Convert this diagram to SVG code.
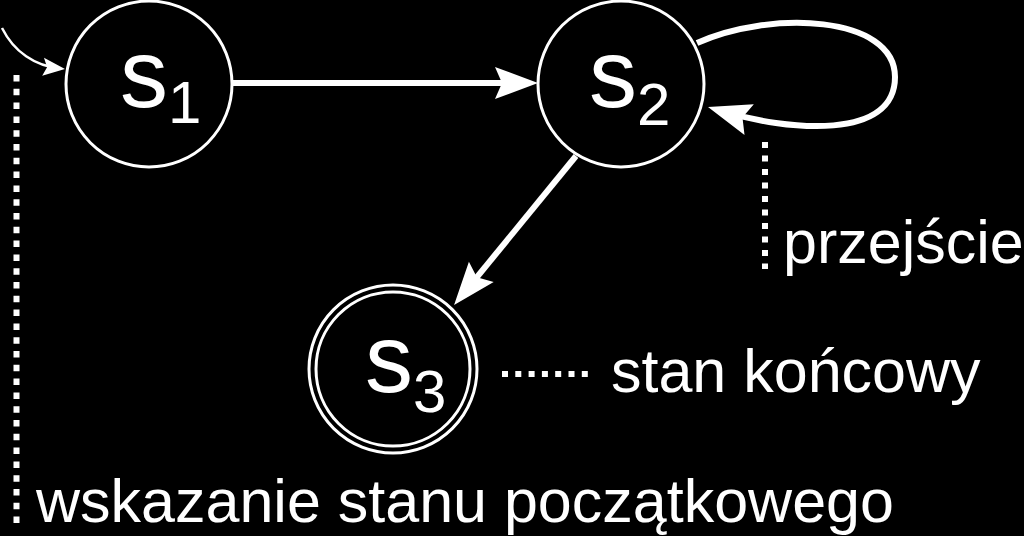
<svg xmlns="http://www.w3.org/2000/svg" width="1024" height="536" viewBox="0 0 1024 536">
<style>
.st{fill:none;stroke:#fff;stroke-width:3}
.lbl{fill:#fff;font-family:"Liberation Sans",Arial,sans-serif}
.big{font-size:96px}
.sub{font-size:60px}
.note{fill:#fff;font-family:"Liberation Sans",Arial,sans-serif;font-size:61px}
.edge{fill:none;stroke:#fff;stroke-width:6}
.dot{fill:none;stroke:#fff;stroke-width:6;stroke-dasharray:6 7.5}
</style>
<defs>
<marker id="ah" markerUnits="userSpaceOnUse" viewBox="-50 -20 60 40" markerWidth="60" markerHeight="40" refX="-10" refY="0" orient="auto" overflow="visible">
<path d="M0,0 L-43,-16 L-36,0 L-43,16 Z" fill="#fff"/>
</marker>
<marker id="ahs" markerUnits="userSpaceOnUse" viewBox="-30 -10 40 20" markerWidth="40" markerHeight="20" refX="-5" refY="0" orient="auto" overflow="visible">
<path d="M0,0 L-22,-9 L-18,0 L-22,9 Z" fill="#fff"/>
</marker>
</defs>
<rect width="1024" height="536" fill="#000"/>
<g id="connectors">
<path d="M2,28 C14,52 35,66 60,68.5" fill="none" stroke="#fff" stroke-width="2.5" marker-end="url(#ahs)"/>
<path class="edge" d="M233,83 L528,83" marker-end="url(#ah)"/>
<path class="edge" d="M576,156 L460.4,297.3" marker-end="url(#ah)"/>
<path class="edge" d="M697,43 C770,10 895,15 895,77 C895,140 790,132 717.6,110" stroke-width="5.5" marker-end="url(#ah)"/>
</g>
<g id="s1">
<circle class="st" cx="149" cy="84" r="83"/>
<text class="lbl big" x="120" y="107">s<tspan class="sub" dy="16">1</tspan></text>
</g>
<g id="s2">
<circle class="st" cx="621" cy="84" r="83"/>
<text class="lbl big" x="589" y="107">s<tspan class="sub" dy="18">2</tspan></text>
</g>
<g id="s3">
<circle class="st" cx="393" cy="369" r="84"/>
<circle class="st" cx="393" cy="369" r="77"/>
<text class="lbl big" x="365" y="392">s<tspan class="sub" dy="20">3</tspan></text>
</g>
<g id="annotations">
<path class="dot" d="M16.5,75 L16.5,526" style="stroke-dasharray:6.5 7.3"/>
<path class="dot" d="M765,142 L765,269"/>
<path class="dot" d="M502,374 L590,374" style="stroke-dasharray:6 7.3"/>
<text class="note" x="783" y="263">przejście</text>
<text class="note" x="611" y="392">stan końcowy</text>
<text class="note" x="36" y="522">wskazanie stanu początkowego</text>
</g>
</svg>
